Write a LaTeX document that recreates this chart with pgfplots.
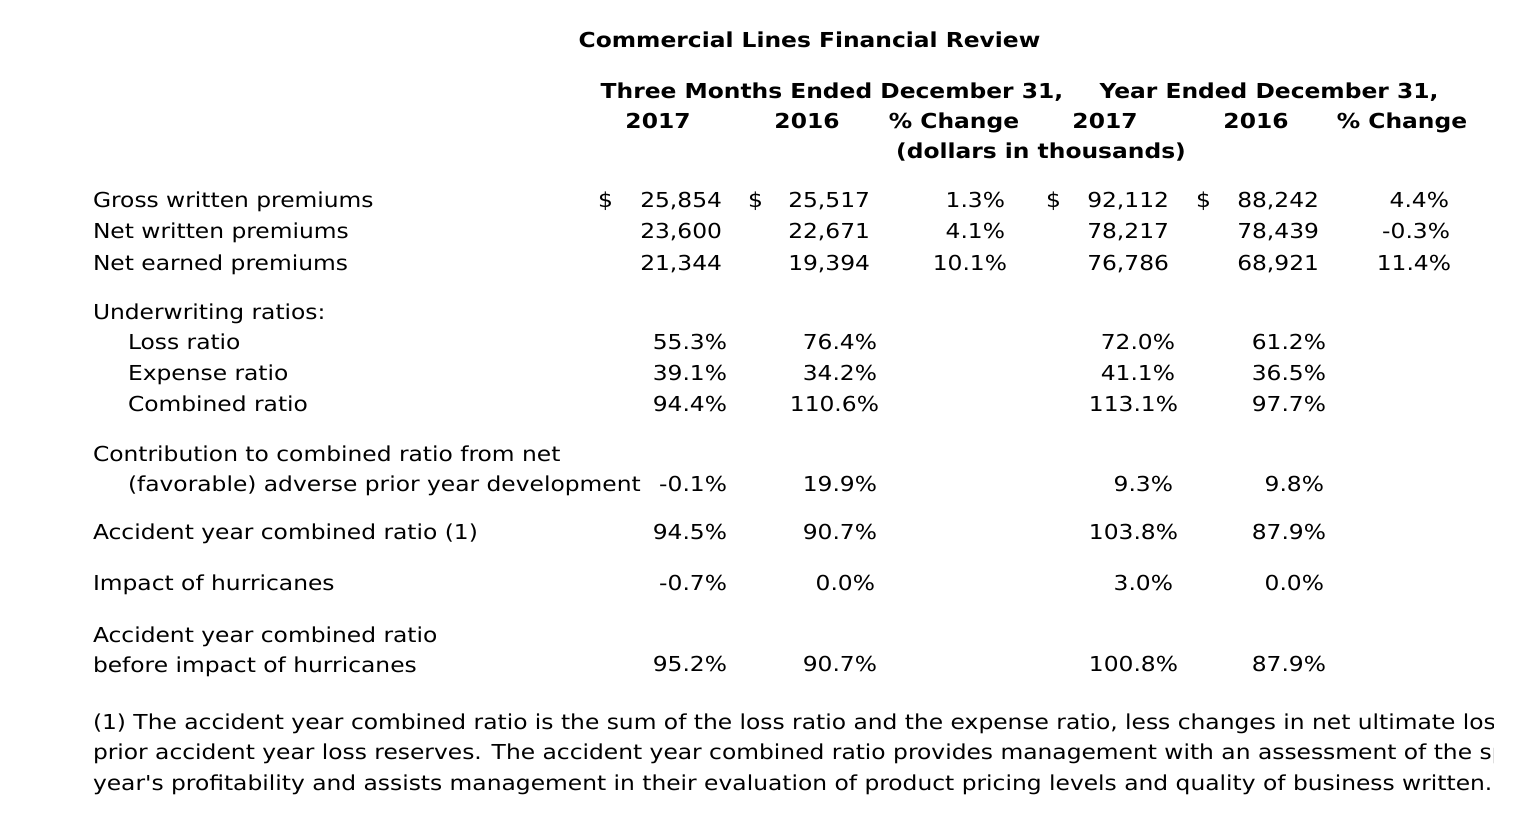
\documentclass[border=0pt]{standalone}
\usepackage{pgfplots}
\pgfplotsset{compat=1.18}
\usepackage{fontspec}
\setmainfont{DejaVu Sans}[FakeStretch=1.134,Ligatures=TeXOff]
\newcommand{\lt}[3]{\node[anchor=base west] at (axis cs:#1,#2) {#3};}
\newcommand{\rt}[3]{\node[anchor=base east] at (axis cs:#1,#2) {#3};}
\newcommand{\ct}[3]{\node[anchor=base] at (axis cs:#1,#2) {#3};}
\begin{document}
\begin{tikzpicture}[every node/.style={inner sep=0pt,outer sep=0pt,font=\fontsize{20.6bp}{24bp}\selectfont}]
\useasboundingbox (0,0) rectangle (1533bp,825bp);
\clip (0,0) rectangle (1493bp,825bp);
\begin{axis}[at={(0,0)},anchor=south west,scale only axis,width=1533bp,height=825bp,
  xmin=0,xmax=1533,ymin=0,ymax=825,y dir=reverse,hide axis,clip=false]
% titles
\ct{809.5}{48}{\bfseries Commercial Lines Financial Review}
\ct{832}{99}{\bfseries Three Months Ended December 31,}
\ct{1269}{99}{\bfseries Year Ended December 31,}
\ct{658}{129}{\bfseries 2017}
\ct{807}{129}{\bfseries 2016}
\ct{954}{129}{\bfseries \% Change}
\ct{1105}{129}{\bfseries 2017}
\ct{1256}{129}{\bfseries 2016}
\ct{1402}{129}{\bfseries \% Change}
\ct{1041}{159}{\bfseries (dollars in thousands)}
% left labels
\lt{93}{207.5}{Gross written premiums}
\lt{93}{238.5}{Net written premiums}
\lt{93}{270}{Net earned premiums}
\lt{93}{319.5}{Underwriting ratios:}
\lt{128}{349.5}{Loss ratio}
\lt{128}{380.5}{Expense ratio}
\lt{128}{411.5}{Combined ratio}
\lt{93}{461.5}{Contribution to combined ratio from net}
\lt{128}{491.5}{(favorable) adverse prior year development}
\lt{93}{539.5}{Accident year combined ratio (1)}
\lt{93}{590.5}{Impact of hurricanes}
\lt{93}{642.5}{Accident year combined ratio}
\lt{93}{672.5}{before impact of hurricanes}
% dollar signs
\lt{598}{207.5}{\$}
\lt{748}{207.5}{\$}
\lt{1046}{207.5}{\$}
\lt{1196}{207.5}{\$}
% premiums rows
\rt{722}{207.5}{25,854}\rt{870}{207.5}{25,517}\rt{1005}{207.5}{1.3\%}
\rt{1169}{207.5}{92,112}\rt{1319}{207.5}{88,242}\rt{1449}{207.5}{4.4\%}
\rt{722}{238.5}{23,600}\rt{870}{238.5}{22,671}\rt{1005}{238.5}{4.1\%}
\rt{1169}{238.5}{78,217}\rt{1319}{238.5}{78,439}\rt{1450}{238.5}{-0.3\%}
\rt{722}{270}{21,344}\rt{870}{270}{19,394}\rt{1007}{270}{10.1\%}
\rt{1169}{270}{76,786}\rt{1319}{270}{68,921}\rt{1451}{270}{11.4\%}
% ratios
\rt{727}{349.5}{55.3\%}\rt{877}{349.5}{76.4\%}\rt{1175}{349.5}{72.0\%}\rt{1326}{349.5}{61.2\%}
\rt{727}{380.5}{39.1\%}\rt{877}{380.5}{34.2\%}\rt{1175}{380.5}{41.1\%}\rt{1326}{380.5}{36.5\%}
\rt{727}{411.5}{94.4\%}\rt{879}{411.5}{110.6\%}\rt{1178}{411.5}{113.1\%}\rt{1326}{411.5}{97.7\%}
\rt{727}{491.5}{-0.1\%}\rt{877}{491.5}{19.9\%}\rt{1173}{491.5}{9.3\%}\rt{1324}{491.5}{9.8\%}
\rt{727}{539.5}{94.5\%}\rt{877}{539.5}{90.7\%}\rt{1178}{539.5}{103.8\%}\rt{1326}{539.5}{87.9\%}
\rt{727}{590.5}{-0.7\%}\rt{875}{590.5}{0.0\%}\rt{1173}{590.5}{3.0\%}\rt{1324}{590.5}{0.0\%}
\rt{727}{671.5}{95.2\%}\rt{877}{671.5}{90.7\%}\rt{1178}{671.5}{100.8\%}\rt{1326}{671.5}{87.9\%}
% footnote
\lt{93}{729}{(1) The accident year combined ratio is the sum of the loss ratio and the expense ratio, less changes in net ultimate loss estimates from}
\lt{93}{759}{prior accident year loss reserves. The accident year combined ratio provides management with an assessment of the specific policy}
\lt{93}{790}{year's profitability and assists management in their evaluation of product pricing levels and quality of business written.}
\end{axis}
\end{tikzpicture}
\end{document}
